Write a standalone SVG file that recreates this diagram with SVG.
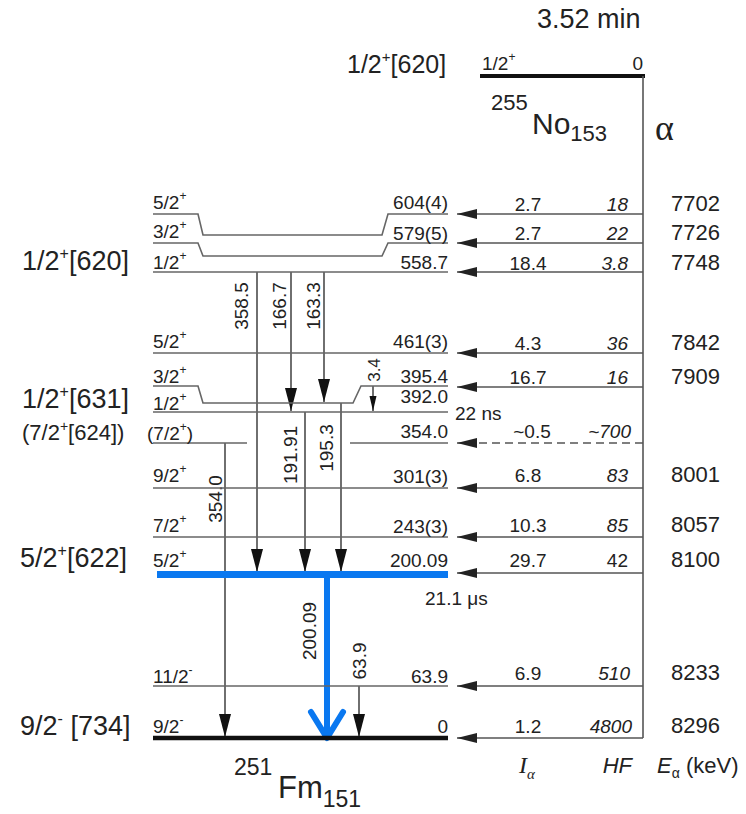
<svg xmlns="http://www.w3.org/2000/svg" width="746" height="814" viewBox="0 0 746 814">
<style>
text{font-family:"Liberation Sans",Arial,sans-serif;fill:#222}
.s{font-size:19px}
.big{font-size:27px}
.col{font-size:19px}
.ea{font-size:22px}
.it{font-style:italic}
.end{text-anchor:end}
.mid{text-anchor:middle}
.lv{stroke:#666;stroke-width:1.6;fill:none}
.ar{stroke:#555;stroke-width:1.6;fill:none}
.g{stroke:#222;stroke-width:1.3;fill:none}
</style>
<defs>
<marker id="ah" markerUnits="userSpaceOnUse" markerWidth="22" markerHeight="12" refX="20" refY="5" orient="auto"><path d="M0,0 L20,5 L0,10 Z" fill="#222"/></marker>
<marker id="gh" markerUnits="userSpaceOnUse" markerWidth="24" markerHeight="14" refX="23" refY="6" orient="auto"><path d="M0,0 L23,6 L0,12 Z" fill="#111"/></marker>
<marker id="sh" markerUnits="userSpaceOnUse" markerWidth="16" markerHeight="8" refX="15" refY="3.5" orient="auto"><path d="M0,0 L15,3.5 L0,7 Z" fill="#111"/></marker>
</defs>

<g id="parent">
<text x="537" y="28" font-size="27">3.52 min</text>
<text x="347" y="73" font-size="25">1/2<tspan dy="-11" font-size="15">+</tspan><tspan dy="11">[620]</tspan></text>
<text x="482" y="70" class="s">1/2<tspan dy="-9" font-size="12">+</tspan></text>
<text x="643" y="70" class="s end">0</text>
<path d="M480,76 H645" stroke="#111" stroke-width="4"/>
<text x="491" y="110" font-size="22">255</text>
<text x="532" y="134" font-size="30">No<tspan dy="7" font-size="22">153</tspan></text>
<text x="655" y="140" font-size="36" style="font-family:'Liberation Serif',serif">α</text>
</g>

<g id="connectors">
<path class="ar" d="M643,76 V738"/>
<path class="ar" d="M643,214 H457" marker-end="url(#ah)"/>
<path class="ar" d="M643,243 H457" marker-end="url(#ah)"/>
<path class="ar" d="M643,272 H457" marker-end="url(#ah)"/>
<path class="ar" d="M643,353 H457" marker-end="url(#ah)"/>
<path class="ar" d="M643,387 H457" marker-end="url(#ah)"/>
<path class="ar" d="M643,443 H457" stroke-dasharray="8 5" marker-end="url(#ah)"/>
<path class="ar" d="M643,488 H457" marker-end="url(#ah)"/>
<path class="ar" d="M643,537 H457" marker-end="url(#ah)"/>
<path class="ar" d="M643,573 H457" marker-end="url(#ah)"/>
<path class="ar" d="M643,686 H457" marker-end="url(#ah)"/>
<path class="ar" d="M643,738 H457" marker-end="url(#ah)"/>

<path class="g" d="M257,272 V572" marker-end="url(#gh)"/>
<path class="g" d="M291,272 V411" marker-end="url(#gh)"/>
<path class="g" d="M324,272 V402" marker-end="url(#gh)"/>
<path class="g" d="M305,412 V572" marker-end="url(#gh)"/>
<path class="g" d="M341,403 V572" marker-end="url(#gh)"/>
<path class="g" d="M373,386 V411" marker-end="url(#sh)"/>
<path class="g" d="M225,443 V737" marker-end="url(#gh)"/>
<path class="g" d="M359,686 V737" marker-end="url(#gh)"/>
<path d="M327,577 V735" stroke="#0a78f0" stroke-width="6" fill="none"/>
<polyline points="311,712 327,738 343,712" stroke="#0a78f0" stroke-width="6" fill="none" stroke-linecap="round" stroke-linejoin="round"/>

<text class="s mid" transform="translate(248,306) rotate(-90)">358.5</text>
<text class="s mid" transform="translate(286,306) rotate(-90)">166.7</text>
<text class="s mid" transform="translate(320,306) rotate(-90)">163.3</text>
<text class="s mid" transform="translate(297,455) rotate(-90)">191.91</text>
<text class="s mid" transform="translate(333,448) rotate(-90)">195.3</text>
<text class="mid" font-size="17" transform="translate(380,370) rotate(-90)">3.4</text>
<text class="s mid" transform="translate(222,499) rotate(-90)">354.0</text>
<text class="s mid" transform="translate(316,631) rotate(-90)">200.09</text>
<text class="s mid" transform="translate(366,661) rotate(-90)">63.9</text>
</g>

<g id="band620">
<text x="22" y="270" class="big">1/2<tspan dy="-11" font-size="16">+</tspan><tspan dy="11">[620]</tspan></text>
</g>
<g id="lv604">
<path class="lv" d="M153,214 H198 L203,235 H382 L388,214 H448"/>
<text x="153" y="209" class="s">5/2<tspan dy="-9" font-size="12">+</tspan></text>
<text x="448" y="209" class="s end">604(4)</text>
<text x="528" y="211" class="col mid">2.7</text>
<text x="628" y="211" class="col end it">18</text>
<text x="671" y="211" class="ea">7702</text>
</g>
<g id="lv579">
<path class="lv" d="M153,243 H198 L203,256 H382 L388,243 H448"/>
<text x="153" y="238" class="s">3/2<tspan dy="-9" font-size="12">+</tspan></text>
<text x="448" y="240" class="s end">579(5)</text>
<text x="528" y="240" class="col mid">2.7</text>
<text x="628" y="240" class="col end it">22</text>
<text x="671" y="240" class="ea">7726</text>
</g>
<g id="lv558">
<path class="lv" d="M153,272 H448"/>
<text x="153" y="269" class="s">1/2<tspan dy="-9" font-size="12">+</tspan></text>
<text x="448" y="269" class="s end">558.7</text>
<text x="528" y="270" class="col mid">18.4</text>
<text x="628" y="270" class="col end it">3.8</text>
<text x="671" y="270" class="ea">7748</text>
</g>
<g id="lv461">
<path class="lv" d="M153,353 H448"/>
<text x="153" y="348" class="s">5/2<tspan dy="-9" font-size="12">+</tspan></text>
<text x="448" y="348" class="s end">461(3)</text>
<text x="528" y="350" class="col mid">4.3</text>
<text x="628" y="350" class="col end it">36</text>
<text x="671" y="350" class="ea">7842</text>
</g>
<g id="band631">
<text x="22" y="408" class="big">1/2<tspan dy="-11" font-size="16">+</tspan><tspan dy="11">[631]</tspan></text>
</g>
<g id="lv395">
<path class="lv" d="M153,386 H198 L203,403 H353 L361,386 H448"/>
<text x="153" y="383" class="s">3/2<tspan dy="-9" font-size="12">+</tspan></text>
<text x="448" y="383" class="s end">395.4</text>
<text x="528" y="384" class="col mid">16.7</text>
<text x="628" y="384" class="col end it">16</text>
<text x="671" y="384" class="ea">7909</text>
</g>
<g id="lv392">
<path class="lv" d="M153,412 H448"/>
<text x="153" y="410" class="s">1/2<tspan dy="-9" font-size="12">+</tspan></text>
<text x="448" y="403" class="s end">392.0</text>
<text x="455" y="420" class="s">22 ns</text>
</g>
<g id="lv354">
<path class="lv" d="M153,443 H247 M350,443 H448"/>
<text x="22" y="440" font-size="22">(7/2<tspan dy="-9" font-size="14">+</tspan><tspan dy="9">[624])</tspan></text>
<text x="147" y="440" class="s">(7/2<tspan dy="-9" font-size="12">+</tspan><tspan dy="9">)</tspan></text>
<text x="448" y="438" class="s end">354.0</text>
<text x="532" y="438" class="col mid">~0.5</text>
<text x="631" y="438" class="col end it">~700</text>
</g>
<g id="lv301">
<path class="lv" d="M153,488 H448"/>
<text x="153" y="482" class="s">9/2<tspan dy="-9" font-size="12">+</tspan></text>
<text x="448" y="483" class="s end">301(3)</text>
<text x="528" y="482" class="col mid">6.8</text>
<text x="628" y="482" class="col end it">83</text>
<text x="671" y="482" class="ea">8001</text>
</g>
<g id="lv243">
<path class="lv" d="M153,537 H448"/>
<text x="153" y="532" class="s">7/2<tspan dy="-9" font-size="12">+</tspan></text>
<text x="448" y="533" class="s end">243(3)</text>
<text x="528" y="532" class="col mid">10.3</text>
<text x="628" y="532" class="col end it">85</text>
<text x="671" y="532" class="ea">8057</text>
</g>
<g id="lv200">
<text x="20" y="567" class="big">5/2<tspan dy="-11" font-size="16">+</tspan><tspan dy="11">[622]</tspan></text>
<path d="M157,574.5 H448" stroke="#0a78f0" stroke-width="7"/>
<text x="153" y="567" class="s">5/2<tspan dy="-9" font-size="12">+</tspan></text>
<text x="448" y="567" class="s end">200.09</text>
<text x="528" y="567" class="col mid">29.7</text>
<text x="628" y="567" class="col end">42</text>
<text x="671" y="567" class="ea">8100</text>
<text x="425" y="605" class="s">21.1 μs</text>
</g>
<g id="lv64">
<path class="lv" d="M153,686 H448"/>
<text x="153" y="683" class="s">11/2<tspan dy="-9" font-size="12">-</tspan></text>
<text x="448" y="683" class="s end">63.9</text>
<text x="528" y="680" class="col mid">6.9</text>
<text x="630" y="680" class="col end it">510</text>
<text x="671" y="680" class="ea">8233</text>
</g>
<g id="lv0">
<text x="20" y="735" class="big">9/2<tspan dy="-11" font-size="16">-</tspan><tspan dy="11"> [734]</tspan></text>
<path d="M153,738 H448" stroke="#111" stroke-width="4.5"/>
<text x="153" y="733" class="s">9/2<tspan dy="-9" font-size="12">-</tspan></text>
<text x="448" y="733" class="s end">0</text>
<text x="528" y="733" class="col mid">1.2</text>
<text x="632" y="733" class="col end it">4800</text>
<text x="671" y="733" class="ea">8296</text>
</g>
<g id="daughter">
<text x="234" y="775" font-size="23">251</text>
<text x="278" y="798" font-size="31">Fm<tspan dy="9" font-size="23">151</tspan></text>
</g>
<g id="headers">
<text x="519" y="773" font-size="24" style="font-family:'Liberation Serif',serif;font-style:italic">I<tspan dy="6" font-size="15">α</tspan></text>
<text x="632" y="773" class="ea it end">HF</text>
<text x="657" y="773" class="ea"><tspan class="it">E</tspan><tspan dy="5" font-size="14">α</tspan><tspan dy="-5"> (keV)</tspan></text>
</g>
</svg>
